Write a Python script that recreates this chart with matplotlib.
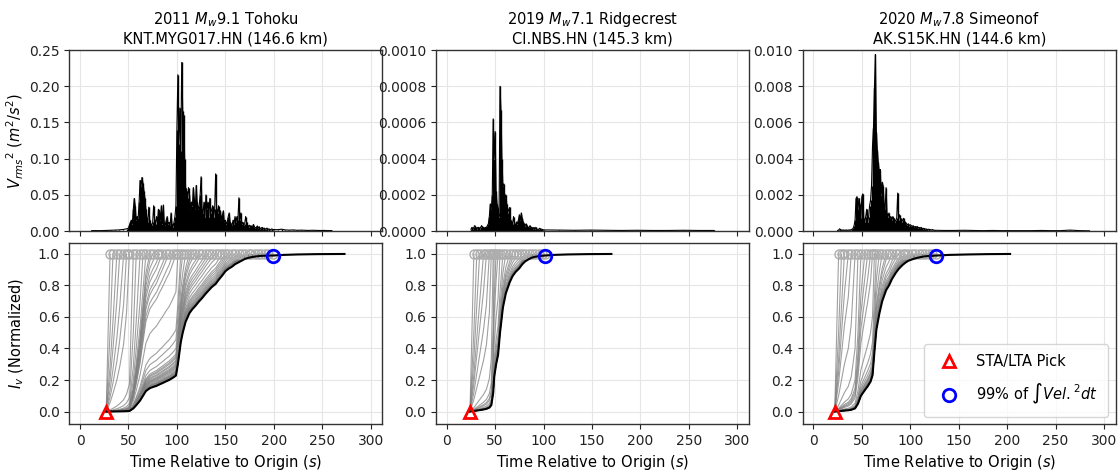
import matplotlib
matplotlib.use("Agg")
import matplotlib.pyplot as plt
from matplotlib.lines import Line2D
from matplotlib.ticker import FormatStrFormatter
import numpy as np

# ---- event titles
titles = ["2011 $M_w$9.1 Tohoku\nKNT.MYG017.HN (146.6 km)",
          "2019 $M_w$7.1 Ridgecrest\nCI.NBS.HN (145.3 km)",
          "2020 $M_w$7.8 Simeonof\nAK.S15K.HN (144.6 km)"]

# ---- top row: Vrms^2 (~1 s samples in the strong part)
tohoku_time = np.concatenate([np.arange(12, 50, 4), np.arange(50, 200), np.arange(200, 264, 4)])
tohoku_vrms2 = [
    0.0005, 0.0006, 0.0005, 0.0006, 0.0008, 0.0010, 0.0012, 0.0015, 0.0020, 0.0030,
    0.004, 0.008, 0.012, 0.015, 0.010, 0.030, 0.045, 0.035, 0.015, 0.020,
    0.018, 0.040, 0.070, 0.062, 0.074, 0.066, 0.055, 0.045, 0.030, 0.018,
    0.012, 0.033, 0.015, 0.010, 0.008, 0.012, 0.035, 0.015, 0.010, 0.020,
    0.012, 0.030, 0.028, 0.015, 0.035, 0.010, 0.036, 0.012, 0.008, 0.015,
    0.020, 0.010, 0.012, 0.008, 0.025, 0.010, 0.006, 0.012, 0.020, 0.035,
    0.140, 0.216, 0.120, 0.170, 0.110, 0.233, 0.166, 0.160, 0.100, 0.060,
    0.055, 0.045, 0.060, 0.050, 0.030, 0.040, 0.035, 0.060, 0.045, 0.030,
    0.063, 0.040, 0.030, 0.035, 0.050, 0.075, 0.030, 0.025, 0.040, 0.020,
    0.050, 0.030, 0.040, 0.020, 0.045, 0.025, 0.030, 0.035, 0.020, 0.030,
    0.079, 0.030, 0.025, 0.035, 0.020, 0.028, 0.015, 0.022, 0.028, 0.012,
    0.015, 0.010, 0.012, 0.020, 0.025, 0.012, 0.010, 0.008, 0.015, 0.010,
    0.020, 0.012, 0.020, 0.015, 0.046, 0.015, 0.025, 0.010, 0.012, 0.008,
    0.010, 0.020, 0.012, 0.008, 0.006, 0.008, 0.005, 0.007, 0.005, 0.009,
    0.006, 0.004, 0.005, 0.007, 0.004, 0.006, 0.003, 0.004, 0.005, 0.003,
    0.004, 0.003, 0.003, 0.004, 0.002, 0.003, 0.002, 0.002, 0.003, 0.002,
    0.0020, 0.0018, 0.0025, 0.0015, 0.0012, 0.0015, 0.0010, 0.0012, 0.0010, 0.0008,
    0.0010, 0.0008, 0.0007, 0.0008, 0.0006, 0.0006]

ridge_time = np.concatenate([np.arange(25, 100), np.arange(100, 285, 16)])
ridge_vrms2 = [
    0.00001, 0.00002, 0.00001, 0.00002, 0.00003,
    0.00002, 0.00001, 0.00002, 0.00002, 0.00001, 0.00002, 0.00003, 0.00002, 0.00002, 0.00001,
    0.00002, 0.00002, 0.00003, 0.00004, 0.00008,
    0.00015, 0.00012, 0.00020, 0.00062, 0.00040,
    0.00055, 0.00022, 0.00015, 0.00012, 0.00008,
    0.00080, 0.00067, 0.00040, 0.00025, 0.00026,
    0.00018, 0.00020, 0.00015, 0.00010, 0.00012,
    0.00013, 0.00006, 0.00005, 0.00004, 0.00008,
    0.00004, 0.00003, 0.00005, 0.00004, 0.00006,
    0.00009, 0.00006, 0.00010, 0.00007, 0.00005,
    0.00004, 0.00003, 0.00004, 0.00003, 0.00002,
    0.00002, 0.00003, 0.00002, 0.00002, 0.00001,
    0.00002, 0.00001, 0.00002, 0.00001, 0.00001, 0.00001, 0.000015, 0.00001, 0.00001, 0.000008,
    0.000006, 0.000005, 0.000004, 0.000005, 0.000004, 0.000003, 0.000004, 0.000003,
    0.000003, 0.000004, 0.000003, 0.000003]

simeo_time = np.concatenate([np.arange(25, 125), np.arange(125, 286, 10)])
simeo_vrms2 = [
    0.00003, 0.00005, 0.00012, 0.00008, 0.00005,
    0.00005, 0.00006, 0.00004, 0.00005, 0.00006, 0.00004, 0.00005, 0.00006, 0.00005, 0.00008,
    0.00010, 0.00015, 0.00030, 0.00060, 0.00180,
    0.00190, 0.00120, 0.00180, 0.00150, 0.00070,
    0.00190, 0.00205, 0.00070, 0.00050, 0.00080,
    0.00120, 0.00050, 0.00080, 0.00140, 0.00170,
    0.00250, 0.00470, 0.00570, 0.00790, 0.00976,
    0.00550, 0.00450, 0.00380, 0.00330, 0.00340,
    0.00200, 0.00270, 0.00250, 0.00150, 0.00120,
    0.00240, 0.00100, 0.00080, 0.00100, 0.00070,
    0.00080, 0.00060, 0.00080, 0.00070, 0.00050,
    0.00060, 0.00070, 0.00210, 0.00060, 0.00090,
    0.00070, 0.00050, 0.00060, 0.00070, 0.00040,
    0.00050, 0.00040, 0.00035, 0.00040, 0.00030,
    0.00035, 0.00030, 0.00025, 0.00030, 0.00020, 0.00025, 0.00020, 0.00025, 0.00018, 0.00020,
    0.00015, 0.00020, 0.00015, 0.00012, 0.00015, 0.00010, 0.00012, 0.00010, 0.00008, 0.00010,
    0.00008, 0.00007, 0.00006, 0.00008, 0.00005,
    0.00004, 0.00003, 0.00003, 0.00004, 0.00003, 0.00002, 0.00003, 0.00002, 0.00002,
    0.00002, 0.00002, 0.00003, 0.00002, 0.00002, 0.00005, 0.00002, 0.00001]

# ---- bottom row: cumulative integral of vel^2, normalized (sampled at window ends)
tohoku_cum_t = [27, 31, 34, 38, 41, 45, 48, 51, 55, 58, 62, 65, 68, 72, 75, 79, 82, 85, 89, 92,
                96, 99, 101, 104, 106, 109, 113, 116, 119, 123, 126, 130, 133, 136, 140, 143,
                147, 150, 153, 157, 160, 164, 167, 170, 174, 177, 181, 184, 187, 191, 194, 199,
                210, 225, 245, 273]
tohoku_cum = [0.0, 0.0002, 0.0004, 0.0007, 0.0010, 0.0015, 0.0022, 0.0035, 0.02, 0.04, 0.07,
              0.10, 0.13, 0.148, 0.155, 0.163, 0.172, 0.18, 0.192, 0.20, 0.215, 0.228, 0.30,
              0.44, 0.50, 0.57, 0.625, 0.65, 0.67, 0.70, 0.72, 0.75, 0.77, 0.79, 0.81, 0.835,
              0.865, 0.89, 0.905, 0.92, 0.935, 0.948, 0.958, 0.968, 0.976, 0.98, 0.984, 0.986,
              0.988, 0.989, 0.9895, 0.990, 0.994, 0.997, 0.999, 1.0]

ridge_cum_t = [24, 28, 31, 34, 38, 41, 44, 46, 48, 49, 51, 53, 55, 58, 61, 65, 68, 71, 75, 78,
               81, 85, 88, 91, 95, 98, 101, 110, 125, 145, 170]
ridge_cum = [0.0, 0.003, 0.006, 0.009, 0.013, 0.017, 0.025, 0.04, 0.12, 0.22, 0.30, 0.36, 0.50,
             0.66, 0.75, 0.82, 0.86, 0.885, 0.91, 0.935, 0.953, 0.968, 0.977, 0.982, 0.986,
             0.988, 0.990, 0.994, 0.997, 0.999, 1.0]

simeo_cum_t = [22, 26, 29, 32, 36, 39, 43, 46, 49, 53, 56, 59, 61, 63, 65, 68, 71, 75, 78, 81,
               85, 88, 92, 95, 98, 102, 105, 109, 112, 115, 119, 122, 127, 140, 160, 180, 203]
simeo_cum = [0.0, 0.002, 0.004, 0.006, 0.008, 0.011, 0.02, 0.05, 0.10, 0.135, 0.16, 0.19, 0.23,
             0.38, 0.52, 0.62, 0.70, 0.77, 0.80, 0.84, 0.88, 0.905, 0.93, 0.945, 0.957, 0.966,
             0.972, 0.978, 0.982, 0.985, 0.987, 0.988, 0.990, 0.994, 0.997, 0.999, 1.0]

top_time = [tohoku_time, ridge_time, simeo_time]
top_vals = [tohoku_vrms2, ridge_vrms2, simeo_vrms2]
cum_time = [tohoku_cum_t, ridge_cum_t, simeo_cum_t]
cum_vals = [tohoku_cum, ridge_cum, simeo_cum]
top_ymax = [0.25, 0.001, 0.010]
top_step = [0.05, 0.0002, 0.002]
top_fmt = ['%.2f', '%.4f', '%.3f']

plt.rcParams['font.size'] = 10
fig, axes = plt.subplots(2, 3, figsize=(11.19, 4.73), dpi=100, sharex=True)
fig.subplots_adjust(left=0.062, right=0.997, top=0.894, bottom=0.104, wspace=0.172, hspace=0.066)

for j in range(3):
    ax = axes[0, j]
    t = np.asarray(top_time[j])
    v = np.asarray(top_vals[j])
    ax.vlines(t, 0, v, color='k', lw=1.0)
    ax.plot(t, v, color='k', lw=0.8)
    ax.set_ylim(0, top_ymax[j])
    ax.set_yticks(np.arange(0, top_ymax[j] * 1.0001, top_step[j]))
    ax.yaxis.set_major_formatter(FormatStrFormatter(top_fmt[j]))
    ax.set_title(titles[j], fontsize=10.5, pad=5)
    ax.tick_params(labelbottom=False)

    ax = axes[1, j]
    ct = np.asarray(cum_time[j], dtype=float)
    cv = np.asarray(cum_vals[j], dtype=float)
    i99 = int(np.argmax(cv >= 0.99))
    for k in range(1, i99 + 1):
        ax.plot(ct[:k + 1], cv[:k + 1] / cv[k], color='gray', alpha=0.75, lw=0.8, zorder=2)
        ax.plot(ct[k], 1.0, 'o', mfc='none', mec='0.68', ms=6.5, mew=1.0, zorder=3)
    ax.plot(ct, cv, color='k', lw=1.5, zorder=4)
    ax.plot(ct[0], 0.0, '^', mfc='none', mec='red', ms=9, mew=2, zorder=5)
    ax.plot(ct[i99], cv[i99], 'o', mfc='none', mec='blue', ms=9, mew=2, zorder=5)
    ax.set_ylim(-0.078, 1.07)
    ax.set_yticks(np.arange(0, 1.01, 0.2))
    ax.yaxis.set_major_formatter(FormatStrFormatter('%.1f'))
    ax.set_xlabel('Time Relative to Origin ($s$)', fontsize=10.5)

for ax in axes.flat:
    ax.set_xlim(-11, 312)
    ax.set_xticks(np.arange(0, 301, 50))
    ax.grid(True, color='#e6e6e6', lw=0.8)
    ax.set_axisbelow(True)
    ax.tick_params(direction='out', length=3.5, labelsize=10, colors='#222222')
    for s in ax.spines.values():
        s.set_color('#333333')
        s.set_linewidth(1.0)

axes[0, 0].set_ylabel('${V_{rms}}^2$ $(m^2/s^2)$', fontsize=10.5)
axes[1, 0].set_ylabel('$I_v$ (Normalized)', fontsize=10.5)
axes[0, 0].yaxis.set_label_coords(-0.14, 0.5)
axes[1, 0].yaxis.set_label_coords(-0.14, 0.5)

handles = [Line2D([], [], ls='none', marker='^', mfc='none', mec='red', ms=9, mew=2),
           Line2D([], [], ls='none', marker='o', mfc='none', mec='blue', ms=9, mew=2)]
axes[1, 2].legend(handles, ['STA/LTA Pick', r'99% of $\int Vel.^2dt$'], loc='lower right',
                  fontsize=10.5, borderpad=0.7, labelspacing=0.9, handletextpad=0.9)

fig.savefig('out.png', dpi=100)
